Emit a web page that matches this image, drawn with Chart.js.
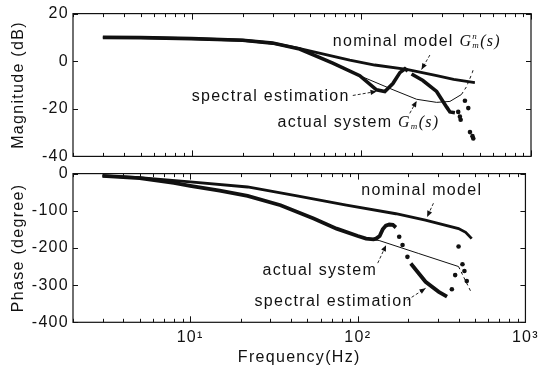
<!DOCTYPE html>
<html><head><meta charset="utf-8">
<script src="https://cdn.jsdelivr.net/npm/chart.js@4.4.0/dist/chart.umd.min.js"></script>
<style>
html,body{margin:0;padding:0;background:#fff;}
#wrap{position:relative;width:543px;height:374px;overflow:hidden;background:#fff;}
canvas{position:absolute;left:0;}
</style></head><body>
<div id="wrap">
<canvas id="mag" width="543" height="170" style="top:0"></canvas>
<canvas id="phase" width="543" height="214" style="top:160px"></canvas>
</div>
<script>
// ---------- Frequency axis ----------
const freqTicks = [2,3,4,5,6,7,8,9,10,20,30,40,50,60,70,80,90,100,200,300,400,500,600,700,800,900,1000];
const freqTickLabels = {10:'10\u00B9', 100:'10\u00B2', 1000:'10\u00B3'};
const magTicks = [-40,-20,0,20];
const phaseTicks = [-400,-300,-200,-100,0];

// ---------- Magnitude (dB) ----------
const magNominalFreq = [3, 5, 10, 20, 30, 43.4, 60, 85.5, 120, 185, 278, 350, 467];
const magNominalDb   = [10, 9.9, 9.5, 8.8, 7.6, 5.3, 3.0, 0.5, -1.6, -3.4, -6.1, -7.6, -9.0];

const magSpectralFreq = [3, 5, 10, 20, 30, 43.3, 67.9, 97.9, 122.9, 137.6, 153.5, 168.8, 180.7, 188, 193, 197.7, 230.6, 277.8, 318.5, 332.8, 356.2];
const magSpectralDb   = [10, 9.9, 9.5, 8.8, 7.6, 5.1, -0.8, -6.1, -12.0, -12.7, -9.4, -4.8, -3.2, -4.1, null, -5.4, -8.1, -12.7, -19.3, -21.3, -21.7];
const magSpectralDotFreq = [372.5, 381, 385, 408, 427, 437, 452, 457];
const magSpectralDotDb   = [-21.3, -23.3, -24.6, -16.6, -19.7, -29.8, -31.5, -32.5];

const magActualFreq = [3, 5, 10, 20, 30, 43.3, 67.9, 98, 105, 153.8, 211.8, 277.8, 332.8, 389, 417, 451, 460];
const magActualDb   = [10, 9.9, 9.5, 8.8, 7.6, 5.1, -0.8, -6.1, -7.0, -12.0, -16.0, -17.3, -16.9, -14.0, -10.7, -4.8, -2.8];

// ---------- Phase (degree) ----------
const phNominalFreq = [3, 5, 10, 22, 43.4, 85.5, 168.8, 253, 398.9, 440, 478];
const phNominalDeg  = [-6, -11, -22, -36, -60, -85, -108, -125, -148, -158, -175];

const phSpectralFreq = [3, 5, 8, 10, 15, 22, 34.6, 54.5, 74.7, 100, 112, 124, 128.5, 135, 140.8, 147, 154, 162, 168.8, 172, 207, 253.6, 304, 340.6];
const phSpectralDeg  = [-6, -12, -25, -33, -46, -60, -85, -121, -148, -168, -175, -177, -175, -168, -150, -140, -137, -138, -145, null, -242, -291, -318, -331];
const phSpectralDotFreq = [176.6, 184.9, 197.7, 364, 381, 399, 421, 432.6, 446.7];
const phSpectralDotDeg  = [-170, -192, -224, -311, -273, -196, -244, -262, -289];

const phActualFreq = [3, 5, 8, 10, 15, 22, 34.6, 54.5, 74.7, 100, 112, 134, 231, 398.9, 478];
const phActualDeg  = [-6, -12, -25, -33, -46, -60, -85, -121, -148, -168, -175, -180, -215, -250, -322];

// ---------- helpers ----------
const pts = (xs, ys) => xs.map((x, i) => ({x, y: ys[i]}));
const INK = '#111';
const SANS = "'Liberation Sans', Arial, sans-serif";
const SERIF = "'Liberation Serif', 'Times New Roman', serif";
Chart.defaults.color = INK;
Chart.defaults.font.family = SANS;
Chart.defaults.font.size = 16;

const spacing = {
  id: 'spacing',
  beforeDraw(chart) { try { chart.ctx.letterSpacing = '1.3px'; } catch (e) {} }
};

const frame = {
  id: 'frame',
  afterDatasetsDraw(chart) {
    const {ctx, chartArea: a, scales} = chart;
    ctx.save();
    ctx.strokeStyle = INK; ctx.lineWidth = 1.2; ctx.setLineDash([]);
    ctx.strokeRect(a.left, a.top, a.right - a.left, a.bottom - a.top);
    ctx.lineWidth = 1;
    const xs = scales.x;
    freqTicks.forEach(v => {
      const px = Math.round(xs.getPixelForValue(v)) + 0.5;
      const len = freqTickLabels[v] ? 6 : 3.5;
      ctx.beginPath();
      ctx.moveTo(px, a.bottom); ctx.lineTo(px, a.bottom - len);
      ctx.moveTo(px, a.top); ctx.lineTo(px, a.top + len);
      ctx.stroke();
    });
    const ys = scales.y;
    ys.ticks.forEach(t => {
      const py = Math.round(ys.getPixelForValue(t.value)) + 0.5;
      ctx.beginPath();
      ctx.moveTo(a.left, py); ctx.lineTo(a.left + 5, py);
      ctx.moveTo(a.right, py); ctx.lineTo(a.right - 5, py);
      ctx.stroke();
    });
    ctx.restore();
  }
};

const annot = {
  id: 'annot',
  afterDatasetsDraw(chart, args, opts) {
    const {ctx, scales: {x, y}} = chart;
    ctx.save();
    ctx.fillStyle = INK; ctx.strokeStyle = INK;
    (opts.arrows || []).forEach(ar => {
      const x1 = x.getPixelForValue(ar.from[0]), y1 = y.getPixelForValue(ar.from[1]);
      const x2 = x.getPixelForValue(ar.to[0]), y2 = y.getPixelForValue(ar.to[1]);
      ctx.lineWidth = 0.9; ctx.setLineDash([3, 2]);
      ctx.beginPath(); ctx.moveTo(x1, y1); ctx.lineTo(x2, y2); ctx.stroke();
      ctx.setLineDash([]);
      const ang = Math.atan2(y2 - y1, x2 - x1), L = 6, W = 2.6;
      const c = Math.cos(ang), s = Math.sin(ang);
      ctx.beginPath();
      ctx.moveTo(x2, y2);
      ctx.lineTo(x2 - L * c + W * s, y2 - L * s - W * c);
      ctx.lineTo(x2 - L * c - W * s, y2 - L * s + W * c);
      ctx.closePath(); ctx.fill();
    });
    try { ctx.letterSpacing = '1.3px'; } catch (e) {}
    ctx.textBaseline = 'middle'; ctx.textAlign = 'left';
    (opts.labels || []).forEach(l => {
      const widths = l.parts.map(p => { ctx.font = p.font; return p.noAdvance ? 0 : ctx.measureText(p.t).width; });
      const total = widths.reduce((s, w) => s + w, 0);
      let px = x.getPixelForValue(l.at[0]);
      const py = y.getPixelForValue(l.at[1]);
      if (l.align === 'right') px -= total;
      l.parts.forEach((p, i) => {
        ctx.font = p.font;
        ctx.fillText(p.t, px, py + (p.dy || 0));
        px += widths[i];
      });
    });
    ctx.restore();
  }
};

const txt = t => ({t, font: `16px ${SANS}`});
const gParts = [
  {t: 'G', font: `italic 16px ${SERIF}`},
];
function scaleX(showLabels) {
  return {
    type: 'logarithmic', min: 2, max: 1000,
    afterBuildTicks: s => { s.ticks = freqTicks.map(v => ({value: v})); },
    grid: {display: false, drawTicks: false},
    border: {display: false},
    ticks: {
      display: showLabels, autoSkip: false, maxRotation: 0, padding: 6,
      font: {size: 16},
      callback: v => freqTickLabels[v] || ''
    },
    title: showLabels ? {display: true, text: 'Frequency(Hz)', font: {size: 16}, padding: {top: 0, bottom: 7}} : {display: false},
    afterFit: s => { s.height = showLabels ? 51.7 : 0; }
  };
}
function scaleY(min, max, step, titleText) {
  return {
    min, max,
    grid: {display: false, drawTicks: false},
    border: {display: false},
    ticks: {stepSize: step, padding: 4, font: {size: 16}},
    title: {display: true, text: titleText, font: {size: 16}, padding: {top: 9, bottom: 0}},
    afterFit: s => { s.width = 73; }
  };
}
const lineDs = (data, width, extra) => Object.assign({
  data, borderColor: INK, backgroundColor: INK, borderWidth: width,
  pointRadius: 0, tension: 0, spanGaps: false, fill: false
}, extra || {});
const dotDs = (data) => ({
  data, showLine: false, borderColor: INK, backgroundColor: INK,
  pointRadius: 2.3, pointBorderWidth: 0
});
const dashAfter = f => ({segment: {borderDash: c => c.p0.parsed.x >= f ? [3, 3] : undefined}});

const common = {
  responsive: false, animation: false, devicePixelRatio: 1,
  plugins: {legend: {display: false}, tooltip: {enabled: false}}
};

new Chart(document.getElementById('mag'), {
  type: 'line',
  data: {datasets: [
    lineDs(pts(magNominalFreq, magNominalDb), 2.8),
    lineDs(pts(magSpectralFreq, magSpectralDb), 3.6),
    dotDs(pts(magSpectralDotFreq, magSpectralDotDb)),
    lineDs(pts(magActualFreq, magActualDb), 1, dashAfter(389))
  ]},
  options: Object.assign({}, common, {
    layout: {padding: {top: 9, right: 12, bottom: 9, left: 0}},
    scales: {x: scaleX(false), y: scaleY(-40, 20, 20, 'Magnitude (dB)')},
    plugins: Object.assign({}, common.plugins, {
      annot: {
        arrows: [
          {from: [253.6, 2.6], to: [226.5, -3.5]},
          {from: [89.1, -14.4], to: [122.9, -12.7]},
          {from: [193, -21.9], to: [211.8, -16.7]}
        ],
        labels: [
          {at: [67.9, 8.15], parts: [txt('nominal model '), {t: 'G', font: `italic 16px ${SERIF}`},
            {t: 'n', font: `italic 9px ${SERIF}`, dy: -5, noAdvance: true}, {t: 'm', font: `italic 9px ${SERIF}`, dy: 4},
            {t: '(s)', font: `italic 16px ${SERIF}`}]},
          {at: [85.5, -14.7], align: 'right', parts: [txt('spectral estimation')]},
          {at: [32.1, -25.9], parts: [txt('actual system '), {t: 'G', font: `italic 16px ${SERIF}`},
            {t: 'm', font: `italic 9px ${SERIF}`, dy: 4}, {t: '(s)', font: `italic 16px ${SERIF}`}]}
        ]
      }
    })
  }),
  plugins: [spacing, frame, annot]
});

new Chart(document.getElementById('phase'), {
  type: 'line',
  data: {datasets: [
    lineDs(pts(phNominalFreq, phNominalDeg), 2.8),
    lineDs(pts(phSpectralFreq, phSpectralDeg), 3.8),
    dotDs(pts(phSpectralDotFreq, phSpectralDotDeg)),
    lineDs(pts(phActualFreq, phActualDeg), 1, dashAfter(398))
  ]},
  options: Object.assign({}, common, {
    layout: {padding: {top: 13.3, right: 12, bottom: 0, left: 0}},
    scales: {x: scaleX(true), y: scaleY(-400, 0, 100, 'Phase (degree)')},
    plugins: Object.assign({}, common.plugins, {
      annot: {
        arrows: [
          {from: [282.6, -79.7], to: [259.3, -116.5]},
          {from: [131.5, -240.8], to: [147.4, -192.5]},
          {from: [197.7, -340], to: [253.6, -308.7]}
        ],
        labels: [
          {at: [105, -44.8], parts: [txt('nominal model')]},
          {at: [27, -259.6], parts: [txt('actual system')]},
          {at: [24.2, -344.7], parts: [txt('spectral estimation')]}
        ]
      }
    })
  }),
  plugins: [spacing, frame, annot]
});
</script>
</body></html>
